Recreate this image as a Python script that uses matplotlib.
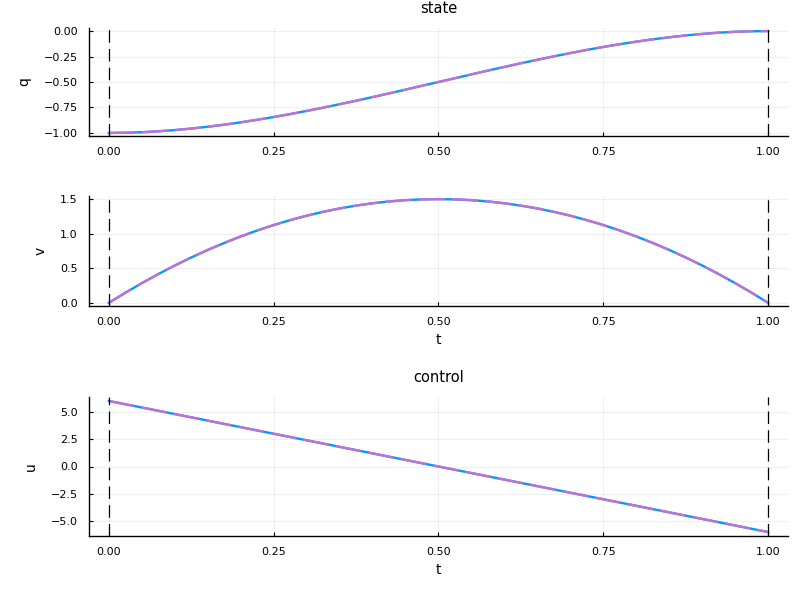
import numpy as np
import matplotlib.pyplot as plt

# time grid and values
t = [0.000, 0.025, 0.050, 0.075, 0.100, 0.125, 0.150, 0.175, 0.200, 0.225,
     0.250, 0.275, 0.300, 0.325, 0.350, 0.375, 0.400, 0.425, 0.450, 0.475,
     0.500, 0.525, 0.550, 0.575, 0.600, 0.625, 0.650, 0.675, 0.700, 0.725,
     0.750, 0.775, 0.800, 0.825, 0.850, 0.875, 0.900, 0.925, 0.950, 0.975, 1.000]
q = [-1.000, -0.998, -0.993, -0.984, -0.972, -0.957, -0.939, -0.919, -0.896, -0.871,
     -0.844, -0.815, -0.784, -0.752, -0.718, -0.684, -0.648, -0.612, -0.575, -0.537,
     -0.500, -0.463, -0.425, -0.388, -0.352, -0.316, -0.282, -0.248, -0.216, -0.185,
     -0.156, -0.129, -0.104, -0.081, -0.061, -0.043, -0.028, -0.016, -0.007, -0.002, 0.000]
v = [0.000, 0.146, 0.285, 0.416, 0.540, 0.656, 0.765, 0.866, 0.960, 1.046,
     1.125, 1.196, 1.260, 1.316, 1.365, 1.406, 1.440, 1.466, 1.485, 1.496,
     1.500, 1.496, 1.485, 1.466, 1.440, 1.406, 1.365, 1.316, 1.260, 1.196,
     1.125, 1.046, 0.960, 0.866, 0.765, 0.656, 0.540, 0.416, 0.285, 0.146, 0.000]
u = [6.0, 5.7, 5.4, 5.1, 4.8, 4.5, 4.2, 3.9, 3.6, 3.3,
     3.0, 2.7, 2.4, 2.1, 1.8, 1.5, 1.2, 0.9, 0.6, 0.3,
     0.0, -0.3, -0.6, -0.9, -1.2, -1.5, -1.8, -2.1, -2.4, -2.7,
     -3.0, -3.3, -3.6, -3.9, -4.2, -4.5, -4.8, -5.1, -5.4, -5.7, -6.0]
t0, tf = 0.0, 1.0
xticks = [0.0, 0.25, 0.5, 0.75, 1.0]

panels = [
    # data, ylabel, title, xlabel, yticks, rect (px: left, top, right, bottom)
    (q, 'q', 'state', '', [-1.0, -0.75, -0.5, -0.25, 0.0], (89, 28, 788, 136)),
    (v, 'v', '', 't', [0.0, 0.5, 1.0, 1.5], (89, 196, 788, 306)),
    (u, 'u', 'control', 't', [-5.0, -2.5, 0.0, 2.5, 5.0], (89, 397, 788, 536)),
]

W, H = 800, 600
fig = plt.figure(figsize=(8, 6), dpi=100)

for data, ylab, title, xlab, yticks, (l, tp, r, b) in panels:
    ax = fig.add_axes([l / W, 1 - b / H, (r - l) / W, (b - tp) / H])
    ax.plot(t, data, color='#009AFA', lw=1.7, zorder=3)
    ax.plot(t, data, color='#C271D2', lw=1.7, dashes=(11, 3), zorder=4)
    ax.axvline(t0, color='black', lw=0.9, dashes=(10, 5), zorder=5)
    ax.axvline(tf, color='black', lw=0.9, dashes=(10, 5), zorder=5)

    lo, hi = min(data), max(data)
    pad = 0.03 * (hi - lo)
    ax.set_ylim(lo - pad, hi + pad)
    ax.set_xlim(-0.03, 1.03)
    ax.set_xticks(xticks)
    ax.set_xticklabels([f'{x:.2f}' for x in xticks])
    ax.set_yticks(yticks)
    dec = 2 if ylab == 'q' else 1
    ax.set_yticklabels([f'{y:.{dec}f}'.replace('-', '\u2212') for y in yticks])

    ax.grid(True, color='black', alpha=0.06, lw=0.8)
    ax.set_axisbelow(True)
    for s in ['top', 'right']:
        ax.spines[s].set_visible(False)
    for s in ['left', 'bottom']:
        ax.spines[s].set_linewidth(1.0)
    ax.tick_params(direction='in', length=3, labelsize=8, pad=8)

    ax.set_ylabel(ylab, fontsize=10, labelpad=9)
    if xlab:
        ax.set_xlabel(xlab, fontsize=10, labelpad=4)
    if title:
        ax.set_title(title, fontsize=10.5, pad=11)

fig.savefig('out.png', dpi=100)
